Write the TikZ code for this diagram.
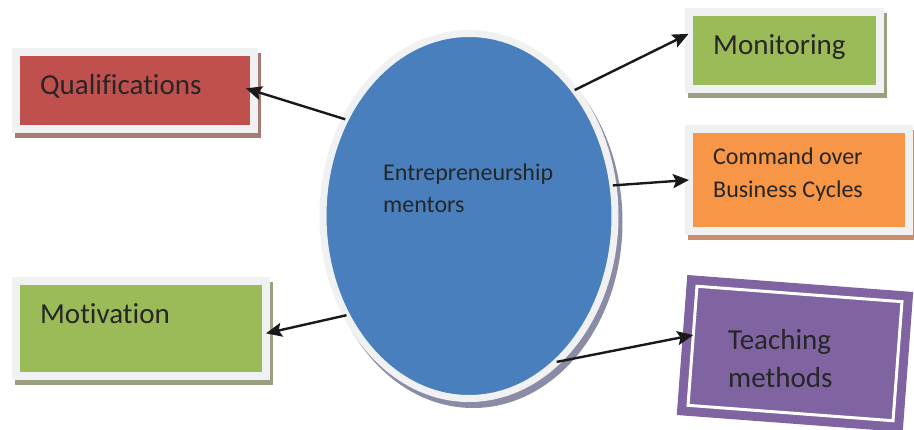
\documentclass[tikz,border=0pt]{standalone}
\usepackage{fontspec}
\setmainfont{Carlito}[Ligatures=CommonOff]
\usepackage{tikz}
\usetikzlibrary{shapes.geometric,shadows,arrows.meta}

\definecolor{mentblue}{HTML}{4A7FBD}
\definecolor{qualred}{HTML}{C0504D}
\definecolor{monigreen}{HTML}{9BBB59}
\definecolor{cmdorange}{HTML}{F79646}
\definecolor{teachpurple}{HTML}{8064A2}
\definecolor{rimgray}{HTML}{F0F1F3}
\definecolor{inkgray}{HTML}{262626}
\definecolor{ellshadow}{HTML}{8A8BA5}
\definecolor{redshadow}{HTML}{A97A74}
\definecolor{greenshadow}{HTML}{9C9F80}
\definecolor{orangeshadow}{HTML}{C98E6E}

\begin{document}
\begin{tikzpicture}[x=1pt, y=-1pt,
  box/.style={draw=rimgray, line width=8pt, inner sep=0pt, outer sep=0pt},
  boxshadow/.style={general shadow={fill=#1, draw=#1, line width=8pt, shadow xshift=3pt, shadow yshift=-5pt}},
  arr/.style={draw=black!90, line width=2.4pt, -{Stealth[length=16pt,width=14pt,inset=3pt]}},
  txt/.style={inner sep=0pt, anchor=base west, text=inkgray, align=left}]
\useasboundingbox (0,0) rectangle (914,430);

% the centre
\node[ellipse, fill=mentblue, draw=rimgray, line width=7pt, minimum width=292pt, minimum height=365pt,
  inner sep=0pt, outer sep=0pt,
  general shadow={fill=ellshadow, draw=ellshadow, line width=7pt, shadow xshift=4pt, shadow yshift=-6pt}] (ment) at (469,216) {};
\node[txt, font=\fontsize{24}{32}\selectfont] (menttext) at (383,213) {Entrepreneurship\\mentors};

% the boxes
\node[box, fill=qualred, boxshadow=redshadow, minimum width=237.5pt, minimum height=76.5pt] (qual) at (134.75,90.75) {};
\node[box, fill=monigreen, boxshadow=greenshadow, minimum width=191pt, minimum height=77.5pt] (moni) at (784,50.75) {};
\node[box, fill=cmdorange, boxshadow=orangeshadow, minimum width=219.5pt, minimum height=102pt] (cmd) at (798.75,180) {};
\node[box, fill=monigreen, boxshadow=greenshadow, minimum width=250pt, minimum height=95pt] (moti) at (141,329) {};
\node[rectangle, rotate=-4.3, fill=teachpurple, draw=teachpurple, line width=9pt, double=white, double distance=3pt,
  inner sep=0pt, outer sep=0pt, minimum width=205.6pt, minimum height=119.4pt] (teach) at (795,353.5) {};

\node[txt, font=\fontsize{29}{36}\selectfont] (qualtext) at (40,95) {Qualifications};
\node[txt, font=\fontsize{29}{36}\selectfont] (monitext) at (713,55) {Monitoring};
\node[txt, font=\fontsize{24}{33}\selectfont] (cmdtext) at (713,198) {Command over\\Business Cycles};
\node[txt, font=\fontsize{29}{36}\selectfont] (motitext) at (40,324) {Motivation};
\node[txt, font=\fontsize{29}{38}\selectfont] (teachtext) at (728,388) {Teaching\\methods};

% arrows
\draw[arr, shorten >=-8pt] (ment.142) -- (qual.east);
\draw[arr] (ment.50) -- (moni.170);
\draw[arr] (ment.12) -- (cmd.west);
\draw[arr] (ment.219) -- (moti.358);
\draw[arr] (ment.301) -- (teach.174);

\end{tikzpicture}
\end{document}
